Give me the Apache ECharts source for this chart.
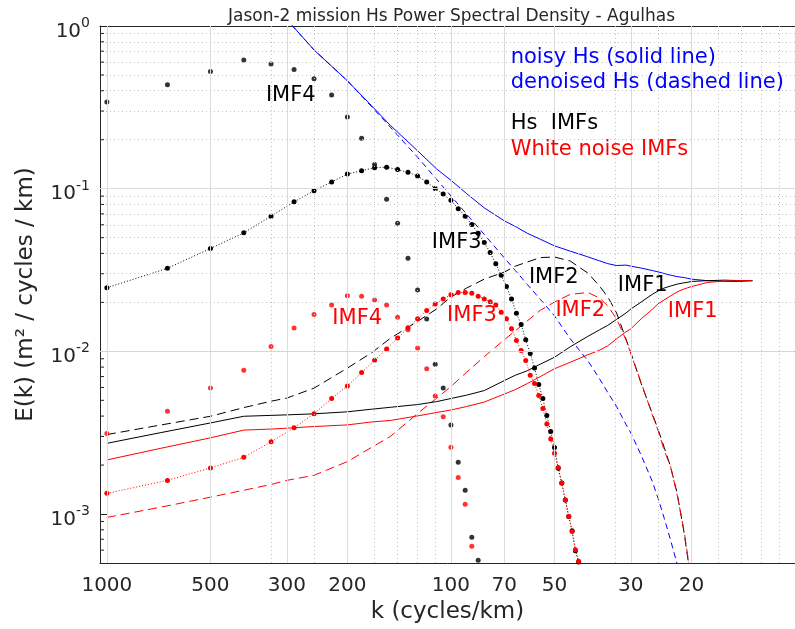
<!DOCTYPE html>
<html><head><meta charset="utf-8">
<script src="https://cdn.jsdelivr.net/npm/echarts@6.0.0/dist/echarts.min.js"></script>
<style>html,body{margin:0;padding:0;background:#fff}#c{width:795px;height:629px}</style>
</head><body><div id="c"></div>
<script>
// ---- axis ticks / grid (wavelength in km; x axis runs 1000 -> 20) ----
const xTickLabels = [1000, 500, 300, 200, 100, 70, 50, 30, 20];
const xMinorGrid = [333.33, 250, 166.67, 142.86, 125, 111.11, 33.33, 25, 16.67, 14.29, 12.5, 11.11];
const yMajorGrid = [0.1, 0.01, 0.001];
const yMinorGrid = [0.9, 0.8, 0.7, 0.6, 0.5, 0.4, 0.3, 0.2,
  0.09, 0.08, 0.07, 0.06, 0.05, 0.04, 0.03, 0.02,
  0.009, 0.008, 0.007, 0.006, 0.005, 0.004, 0.003, 0.002,
  0.0009, 0.0008, 0.0007, 0.0006];

// ---- line curves, sampled at these wavelengths (km) ----
const lineWavelength = [1000, 700, 500, 400, 333, 300, 250, 200, 170, 150, 125, 110, 100, 90, 80, 70, 65, 60, 55, 50,
  45, 40, 37, 35, 33, 31, 30, 28, 26, 25, 24, 23, 22, 21, 20.5, 20, 18, 16, 14.5, 13.3];
const noisyHs = [null, null, null, null, 1.40, 1.097, 0.713, 0.4604, 0.323, 0.245, 0.171, 0.132, 0.1127, 0.0932, 0.0762, 0.0635, 0.0586, 0.0532, 0.0489, 0.0445,
  0.0413, 0.0381, 0.0360, 0.0346, 0.0337, 0.0339, 0.0334, 0.0325, 0.0314, 0.0308, 0.0301, 0.0294, 0.0288, 0.0284, 0.0281, 0.0278, 0.0272, 0.0269, 0.0269, 0.0272];
const denoisedHs = [null, null, null, null, 1.40, 1.097, 0.713, 0.4604, 0.319, 0.239, 0.156, 0.114, 0.0903, 0.0697, 0.0523, 0.0376, 0.0314, 0.0258, 0.0209, 0.01652,
  0.01194, 0.00875, 0.00679, 0.00558, 0.00458, 0.00356, 0.00315, 0.00230, 0.00159, 0.00125, 0.000944, 0.000692, 0.000493, null, null, null, null, null, null, null];
const hsImf2 = [0.00308, 0.00352, 0.00399, 0.00451, 0.00494, 0.00516, 0.00594, 0.00789, 0.00980, 0.01203, 0.01528, 0.01824, 0.0216, 0.0245, 0.0278, 0.0307, 0.0334, 0.0354, 0.0377, 0.0380,
  0.0359, 0.0303, 0.0252, 0.0216, 0.0172, 0.01194, 0.00980, 0.00634, 0.00415, 0.00331, 0.00257, 0.00196, 0.00134, 0.000764, 0.000537, 0.00040, null, null, null, null];
const noiseImf2 = [0.000953, 0.00110, 0.00127, 0.00140, 0.00152, 0.00161, 0.00173, 0.00210, 0.00257, 0.00300, 0.00415, 0.00516, 0.00607, 0.00745, 0.00927, 0.01178, 0.01337, 0.01539, 0.01786, 0.0201,
  0.0224, 0.0230, 0.0213, 0.0190, 0.01584, 0.01178, 0.00967, 0.00643, 0.00409, 0.00327, 0.00246, 0.00196, 0.00131, 0.000787, 0.000553, 0.00040, null, null, null, null];
const hsImf1 = [0.00272, 0.00316, 0.00363, 0.00399, 0.00404, 0.00407, 0.00413, 0.00425, 0.00441, 0.00453, 0.00471, 0.00491, 0.00513, 0.00538, 0.00574, 0.00661, 0.00713, 0.00760, 0.00834, 0.00920,
  0.01067, 0.01236, 0.01356, 0.01445, 0.01573, 0.0172, 0.0182, 0.0201, 0.0224, 0.0235, 0.0245, 0.0252, 0.0259, 0.0264, 0.0266, 0.0269, 0.0272, 0.0274, 0.0272, 0.0272];
const noiseImf1 = [0.00215, 0.00253, 0.00294, 0.00328, 0.00333, 0.00337, 0.00345, 0.00353, 0.00368, 0.00376, 0.00401, 0.00421, 0.00436, 0.00458, 0.00488, 0.00546, 0.00582, 0.00634, 0.00699, 0.00782,
  0.00857, 0.00953, 0.01016, 0.01082, 0.01194, 0.01318, 0.01375, 0.01584, 0.01811, 0.0196, 0.0207, 0.0219, 0.0232, 0.0242, 0.0246, 0.0250, 0.0265, 0.0271, 0.0272, 0.0272];

// ---- dotted IMF spectra, at these wavelengths (km) ----
const dotWavelength = [1000, 666.7, 500, 400, 333.3, 285.7, 250, 222.2, 200, 181.8, 166.7, 153.8, 142.9, 133.3, 125, 117.6, 111.1, 105.3, 100, 95.24,
  90.91, 86.96, 83.33, 80, 76.92, 74.07, 71.43, 68.97, 66.67, 64.52, 62.5, 60.61, 58.82, 57.14, 55.56, 54.05, 52.63, 51.28, 50, 48.78,
  47.62, 46.51, 45.45, 44.44, 43.48, 42.55];
const hsImf3 = [0.0246, 0.0324, 0.0429, 0.0535, 0.0677, 0.0830, 0.0972, 0.110, 0.123, 0.129, 0.1345, 0.1356, 0.131, 0.126, 0.1195, 0.110, 0.1004, 0.0927, 0.0848, 0.0754,
  0.0677, 0.0602, 0.0532, 0.0467, 0.0405, 0.0345, 0.0294, 0.0250, 0.0210, 0.01717, 0.01462, 0.01178, 0.00971, 0.00790, 0.00625, 0.00513, 0.00403, 0.00322, 0.00256, 0.00191,
  0.00155, 0.00122, 0.000967, 0.000789, 0.000595, 0.000508];
const noiseImf3 = [0.00134, 0.00161, 0.00192, 0.00223, 0.00278, 0.00339, 0.00413, 0.00513, 0.00613, 0.00741, 0.00882, 0.01035, 0.01206, 0.01395, 0.01584, 0.01780, 0.01958, 0.0210, 0.0223, 0.0230,
  0.0230, 0.02275, 0.0218, 0.0210, 0.0202, 0.0193, 0.0174, 0.01584, 0.01375, 0.01166, 0.01012, 0.00879, 0.00712, 0.00634, 0.00535, 0.00446, 0.00357, 0.00289, 0.00236, 0.00193,
  0.00155, 0.00122, 0.000967, 0.000782, 0.000604, 0.000513];
const hsImf4 = [0.341, 0.435, 0.525, 0.617, 0.585, 0.540, 0.474, 0.376, 0.276, 0.204, 0.141, 0.0860, 0.0613, 0.0373, 0.0238, 0.0158, 0.00832, 0.00596, 0.00352, 0.00208,
  0.00140, 0.00072, 0.00052];
const noiseImf4 = [0.00313, 0.00428, 0.00596, 0.00764, 0.01072, 0.0139, 0.01683, 0.0193, 0.0220, 0.0218, 0.0207, 0.0193, 0.0162, 0.0136, 0.01047, 0.00782, 0.00532, 0.00396, 0.00257, 0.00168,
  0.00115, 0.000633];

const FONT = 'DejaVu Sans';
const AX = '#262626';
const BLUE = '#0000ff', RED = '#ff0000', BLACK = '#000000';
const X_MAX = 1047, X_MIN = 10;

function pairs(xs, ys) { return ys.map((y, i) => [xs[i], y == null ? NaN : y]); }

const gridLines = [];
xTickLabels.forEach(v => gridLines.push({ xAxis: v, lineStyle: { color: '#dcdcdc', type: 'solid', width: 1 } }));
xMinorGrid.forEach(v => gridLines.push({ xAxis: v, lineStyle: { color: '#c2c2c2', type: [1, 3], width: 1 } }));
yMajorGrid.forEach(v => gridLines.push({ yAxis: v, lineStyle: { color: '#dcdcdc', type: 'solid', width: 1 } }));
yMinorGrid.forEach(v => gridLines.push({ yAxis: v, lineStyle: { color: '#c2c2c2', type: [1, 3], width: 1 } }));

function lineSeries(name, ys, color, dash) {
  return { name, type: 'line', xAxisIndex: 0, yAxisIndex: 0, data: pairs(lineWavelength, ys),
    symbol: 'none', showSymbol: false, connectNulls: false, clip: true, z: 3,
    lineStyle: { color, width: 1, type: dash || 'solid' }, emphasis: { disabled: true } };
}
function dotLine(name, ys, color) {
  return { name, type: 'line', data: pairs(dotWavelength, ys), symbol: 'circle', symbolSize: 5,
    showSymbol: true, showAllSymbol: true, clip: true, z: 4,
    itemStyle: { color, borderWidth: 0 }, lineStyle: { color, width: 1, type: [1, 2] }, emphasis: { disabled: true } };
}
function dots(name, ys, color) {
  return { name, type: 'scatter', data: pairs(dotWavelength, ys), symbol: 'circle', symbolSize: 5,
    clip: true, z: 4, itemStyle: { color, borderWidth: 0 }, emphasis: { disabled: true } };
}

function txt(text, x, y, color, size, align) {
  return { type: 'text', x: x, y: y, z: 10, silent: true,
    style: { text, fill: color, font: size + 'px "' + FONT + '"', textAlign: align || 'center', textVerticalAlign: 'middle' } };
}

const xAxisCommon = { type: 'log', logBase: 10, min: X_MIN, max: X_MAX, inverse: true,
  axisLine: { show: true, onZero: false, lineStyle: { color: AX, width: 1 } },
  axisTick: { show: true, inside: true, length: 7, customValues: xTickLabels, lineStyle: { color: AX } },
  splitLine: { show: false }, minorTick: { show: false }, minorSplitLine: { show: false } };

const texts = [
  txt('Jason-2 mission Hs Power Spectral Density - Agulhas', 451.5, 17, AX, 17),
  txt('noisy Hs (solid line)', 510.7, 58, BLUE, 21, 'left'),
  txt('denoised Hs (dashed line)', 510.7, 83, BLUE, 21, 'left'),
  txt('Hs  IMFs', 510.7, 123.6, BLACK, 21, 'left'),
  txt('White noise IMFs', 510.7, 149.7, RED, 21, 'left'),
  txt('IMF4', 290.8, 95.6, BLACK, 21),
  txt('IMF3', 456.7, 242.2, BLACK, 21),
  txt('IMF2', 553.8, 277.2, BLACK, 21),
  txt('IMF1', 642.7, 285.6, BLACK, 21),
  txt('IMF4', 357.2, 318.2, RED, 21),
  txt('IMF3', 472, 315.6, RED, 21),
  txt('IMF2', 580.3, 310.6, RED, 21),
  txt('IMF1', 692.7, 311.4, RED, 21)
];

const option = {
  animation: false,
  backgroundColor: '#ffffff',
  grid: { left: 100, top: 26, right: -8, bottom: 65, containLabel: false },
  xAxis: [
    Object.assign({}, xAxisCommon, { position: 'bottom',
      axisLabel: { customValues: xTickLabels, fontSize: 20, color: AX, fontFamily: FONT, margin: 13, formatter: v => String(Math.round(v)) },
      name: 'k (cycles/km)', nameLocation: 'middle', nameGap: 38,
      nameTextStyle: { fontSize: 23, color: AX, fontFamily: FONT } }),
    Object.assign({}, xAxisCommon, { position: 'top', axisLabel: { show: false } })
  ],
  yAxis: {
    type: 'log', logBase: 10, min: 0.0005, max: 1, position: 'left',
    axisLine: { show: true, onZero: false, lineStyle: { color: AX, width: 1 } },
    axisTick: { show: true, inside: true, length: 7, lineStyle: { color: AX } },
    minorTick: { show: false },
    splitLine: { show: false },
    axisLabel: { showMinLabel: false, margin: 10, color: AX, fontFamily: FONT, padding: [6, 0, 0, 0],
      formatter: v => '{b|10}{s|' + Math.round(Math.log10(v)) + '}',
      rich: { b: { fontSize: 20, fontFamily: FONT, color: AX, verticalAlign: 'bottom' },
              s: { fontSize: 14, fontFamily: FONT, color: AX, verticalAlign: 'top', padding: [0, 0, 11, 0] } } },
    name: 'E(k) (m² / cycles / km)', nameLocation: 'middle', nameGap: 62,
    nameTextStyle: { fontSize: 23, color: AX, fontFamily: FONT }
  },
  series: [
    { name: 'grid', type: 'line', data: [], z: 1, silent: true,
      markLine: { silent: true, symbol: 'none', label: { show: false }, animation: false, data: gridLines } },
    lineSeries('noisy Hs', noisyHs, BLUE),
    lineSeries('denoised Hs', denoisedHs, BLUE, [6, 4]),
    lineSeries('Hs IMF2', hsImf2, BLACK, [9, 5]),
    lineSeries('noise IMF2', noiseImf2, RED, [9, 5]),
    lineSeries('Hs IMF1', hsImf1, BLACK),
    lineSeries('noise IMF1', noiseImf1, RED),
    dotLine('Hs IMF3', hsImf3, BLACK),
    dotLine('noise IMF3', noiseImf3, RED),
    dots('Hs IMF4', hsImf4, BLACK),
    dots('noise IMF4', noiseImf4, RED)
  ]
};
const chart = echarts.init(document.getElementById('c'), null, { renderer: 'canvas' });
chart.setOption(option);

// minor ticks on the left axis, placed through the axis scale
const minorTicks = yMinorGrid.map(v => {
  const p = chart.convertToPixel({ xAxisIndex: 0, yAxisIndex: 0 }, [X_MAX, v]);
  return { type: 'line', z: 5, silent: true,
    shape: { x1: p[0], y1: p[1], x2: p[0] + 4, y2: p[1] }, style: { stroke: AX, lineWidth: 1 } };
});
chart.setOption({ graphic: texts.concat(minorTicks) });
</script></body></html>
